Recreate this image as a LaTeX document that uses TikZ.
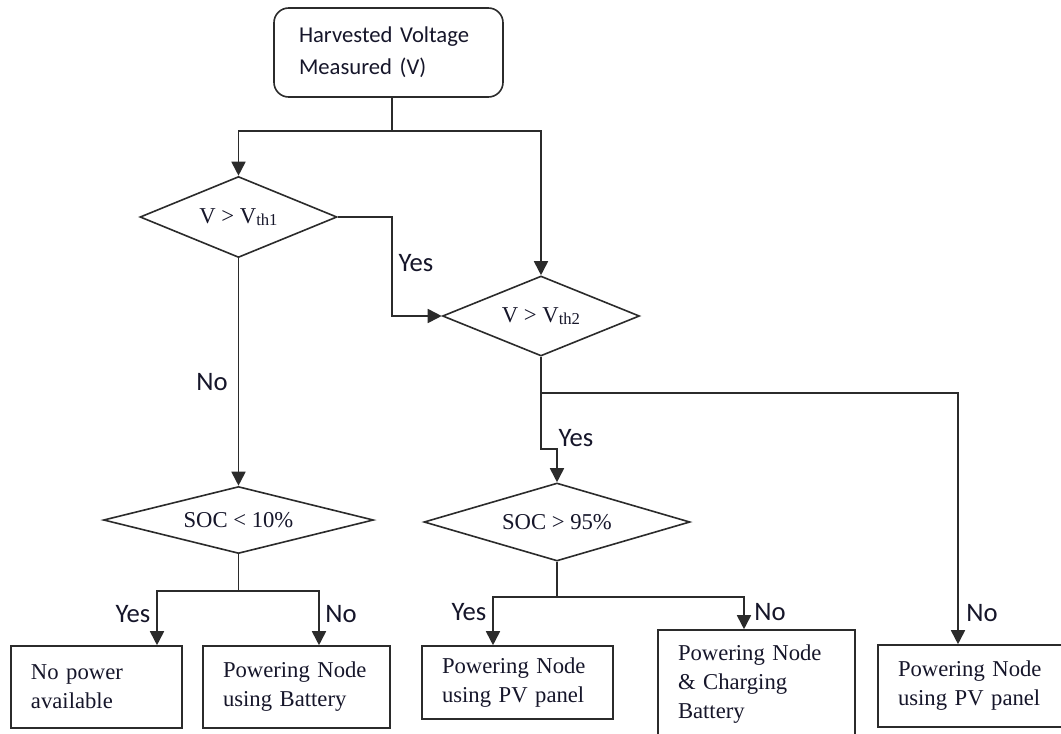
\documentclass[tikz,border=0pt]{standalone}
\usepackage{fontspec}
\setmainfont{Liberation Serif}
\newfontfamily\calfont{Carlito}
\usetikzlibrary{shapes.geometric,arrows.meta}
\definecolor{ln}{HTML}{2B2B2B}
\definecolor{tx}{HTML}{16162A}
\def\px{0.75pt}
\newcommand{\lowsub}[1]{\raisebox{-0.25ex}{\fontsize{12.5}{12.5}\selectfont #1}}
\begin{document}
\begin{tikzpicture}[x=0.75pt,y=-0.75pt,
  every node/.style={text=tx},
  conn/.style={draw=ln,line width=1.3pt},
  arr/.style={conn,-{Triangle[width=10.5pt,length=10.5pt]}},
  dec/.style={diamond,draw=ln,line width=1.2pt,inner sep=0pt,aspect=3,
    font=\fontsize{17}{20}\selectfont},
  box/.style={rectangle,draw=ln,line width=1.2pt,align=left,inner xsep=15pt,inner ysep=0pt,
    font=\fontsize{17}{21.75}\selectfont},
  lbl/.style={font=\calfont\fontsize{20}{24}\selectfont,inner sep=0pt}]
\useasboundingbox (0,0) rectangle (1061,733);
\fill[white] (0,0) rectangle (1061,733);

% start box
\node[draw=ln,line width=1.2pt,rounded corners=11pt,align=left,
  text width=179*\px,inner xsep=25*\px,inner ysep=0pt,minimum height=89*\px,
  font=\calfont\fontsize{17}{24}\selectfont] (top) at (388.5,52.5)
  {Harvested Voltage\\Measured (V)};

% decisions
\node[dec,minimum width=197*\px,minimum height=81*\px] (d1) at (238.5,217)
  {V > V\lowsub{th1}};
\node[dec,minimum width=197*\px,minimum height=80*\px] (d2) at (541,316)
  {V > V\lowsub{th2}};
\node[dec,minimum width=270*\px,minimum height=67*\px] (d3) at (238.5,520)
  {SOC < 10\%};
\node[dec,minimum width=266*\px,minimum height=78*\px] (d4) at (557,522)
  {SOC > 95\%};

% outcome boxes
\node[box,text width=131*\px,minimum height=82*\px] (b1) at (96.5,687)
  {No power\\available};
\node[box,text width=147*\px,minimum height=82*\px] (b2) at (296.5,687)
  {Powering Node\\using Battery};
\node[box,text width=151*\px,minimum height=73*\px] (b3) at (517.5,682.5)
  {Powering Node\\using PV panel};
\node[box,text width=157*\px,minimum height=108*\px] (b4) at (756.5,684)
  {Powering Node\\\& Charging\\Battery};
\node[box,text width=156*\px,minimum height=82*\px] (b5) at (976,686)
  {Powering Node\\using PV panel};

% junction coordinates
\coordinate (j0) at (392,131);
\coordinate (c1) at (392,217);
\coordinate (c2) at (541,449);
\coordinate (c5) at (958,393);
\coordinate (s3) at (238.5,591);
\coordinate (a1) at (157,591);
\coordinate (a2) at (319,591);
\coordinate (s4) at (557,597);
\coordinate (a3) at (493,597);
\coordinate (a4) at (744,597);

% connectors
\draw[conn] (j0 |- top.south) -- (j0);
\draw[arr] (j0) -| (d1.north);
\draw[arr] (j0) -| (d2.north);
\draw[arr] (d1.east) -- (c1) |- (d2.west);
\draw[arr] (d1.south) -- (d3.north);
\draw[arr] (d2.south) -- (c2) -| (d4.north);
\draw[arr] (d2.south |- c5) -- (c5) -- (c5 |- b5.north);
\draw[conn] (d3.south) -- (s3);
\draw[arr] (s3) -- (a1) -- (a1 |- b1.north);
\draw[arr] (s3) -- (a2) -- (a2 |- b2.north);
\draw[conn] (d4.south) -- (s4);
\draw[arr] (s4) -- (a3) -- (a3 |- b3.north);
\draw[arr] (s4) -- (a4) -- (a4 |- b4.north);

% labels
\node[lbl] (l1) at (416,263) {Yes};
\node[lbl] (l2) at (212,382) {No};
\node[lbl] (l3) at (576,438) {Yes};
\node[lbl] (l4) at (982,613) {No};
\node[lbl] (l5) at (133,614) {Yes};
\node[lbl] (l6) at (341,614) {No};
\node[lbl] (l7) at (469,612) {Yes};
\node[lbl] (l8) at (770,612) {No};
\end{tikzpicture}
\end{document}
